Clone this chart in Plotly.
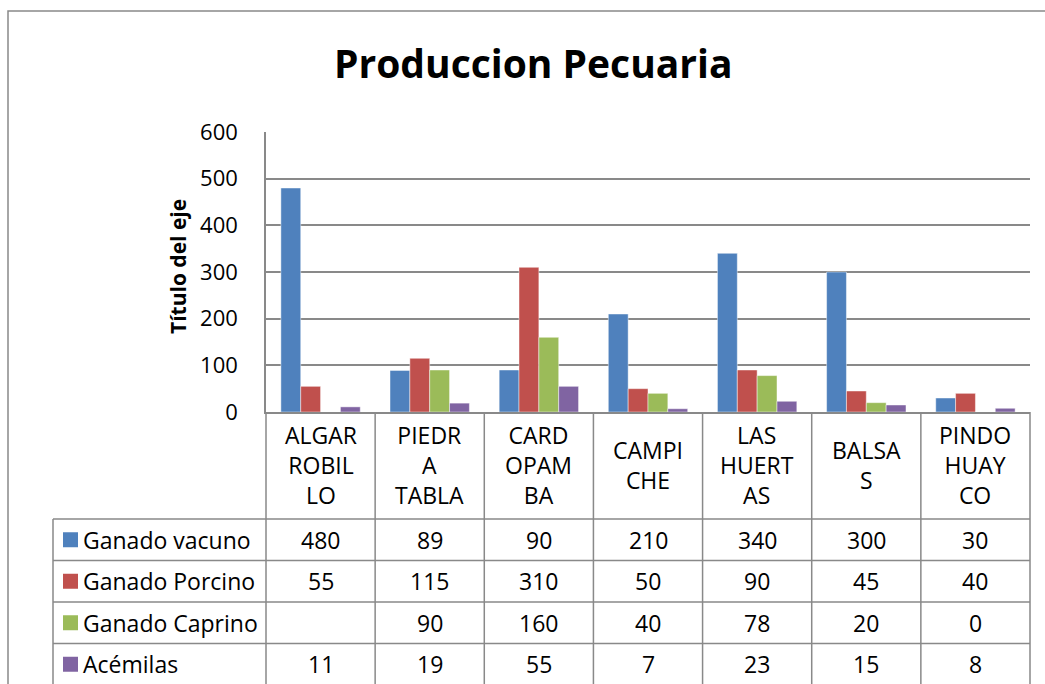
import plotly.graph_objects as go

# ---------------- data ----------------
categories = ["ALGARROBILLO", "PIEDRA TABLA", "CARDOPAMBA", "CAMPICHE",
              "LAS HUERTAS", "BALSAS", "PINDOHUAYCO"]
header_labels = ["ALGAR<br>ROBIL<br>LO", "PIEDR<br>A<br>TABLA", "CARD<br>OPAM<br>BA",
                 "CAMPI<br>CHE", "LAS<br>HUERT<br>AS", "BALSA<br>S", "PINDO<br>HUAY<br>CO"]
series_names = ["Ganado vacuno", "Ganado Porcino", "Ganado Caprino", "Acémilas"]
ganado_vacuno = [480, 89, 90, 210, 340, 300, 30]
ganado_porcino = [55, 115, 310, 50, 90, 45, 40]
ganado_caprino = [None, 90, 160, 40, 78, 20, 0]
acemilas = [11, 19, 55, 7, 23, 15, 8]
series_values = [ganado_vacuno, ganado_porcino, ganado_caprino, acemilas]
y_ticks = [0, 100, 200, 300, 400, 500, 600]

title_text = "Produccion Pecuaria"
y_title = "Título del eje"

# ---------------- styles ----------------
colors = ["#4F81BD", "#C0504D", "#9BBB59", "#8064A2"]
W, H = 1045, 684
FONT = "'Open Sans', Lato, sans-serif"
LINE = "#898989"
PLOT_L, PLOT_R, PLOT_T, PLOT_B = 266, 1030, 132, 412
LEG_L = 53
ROW_TOP = 519
ROW_H = 41.5
TXT = 23


def px(x):
    # pixel x -> paper x (paper spans the plot area)
    return (x - PLOT_L) / (PLOT_R - PLOT_L)


def py(y):
    # pixel y (from top) -> paper y
    return (PLOT_B - y) / (PLOT_B - PLOT_T)


fig = go.Figure()
for name, vals, col in zip(series_names, series_values, colors):
    fig.add_trace(go.Bar(
        x=categories, y=vals, name=name,
        marker=dict(color=col, line=dict(color="rgba(255,255,255,0.45)", width=1)),
        showlegend=False,
    ))

shapes = []
annotations = []

# outer chart border
shapes.append(dict(type="rect", xref="paper", yref="paper",
                   x0=px(8), x1=px(1070), y0=py(11), y1=py(720),
                   line=dict(color=LINE, width=1.5), fillcolor="rgba(0,0,0,0)"))

n = len(categories)
col_w = (PLOT_R - PLOT_L) / n
# vertical table lines at category boundaries
for k in range(n + 1):
    xb = PLOT_L + k * col_w
    shapes.append(dict(type="line", xref="paper", yref="paper",
                       x0=px(xb), x1=px(xb), y0=py(PLOT_B), y1=py(720),
                       line=dict(color=LINE, width=1.5)))
# legend column left edge
shapes.append(dict(type="line", xref="paper", yref="paper",
                   x0=px(LEG_L), x1=px(LEG_L), y0=py(ROW_TOP), y1=py(720),
                   line=dict(color=LINE, width=1.5)))
# horizontal row lines
for r in range(len(series_names) + 1):
    yb = ROW_TOP + r * ROW_H
    shapes.append(dict(type="line", xref="paper", yref="paper",
                       x0=px(LEG_L), x1=px(PLOT_R), y0=py(yb), y1=py(yb),
                       line=dict(color=LINE, width=1.5)))

# header (category) labels
for i, lab in enumerate(header_labels):
    xc = PLOT_L + (i + 0.5) * col_w
    annotations.append(dict(xref="paper", yref="paper", x=px(xc), y=py((PLOT_B + ROW_TOP) / 2 - 1),
                            text=lab, showarrow=False, xanchor="center", yanchor="middle",
                            font=dict(family=FONT, size=TXT, color="#000000")))

# rows
for r, (name, vals, col) in enumerate(zip(series_names, series_values, colors)):
    yc = ROW_TOP + (r + 0.5) * ROW_H
    shapes.append(dict(type="rect", xref="paper", yref="paper",
                       x0=px(63), x1=px(78), y0=py(yc - 7.5), y1=py(yc + 7.5),
                       line=dict(width=0), fillcolor=col))
    annotations.append(dict(xref="paper", yref="paper", x=px(81), y=py(yc),
                            text=name, showarrow=False, xanchor="left", yanchor="middle",
                            font=dict(family=FONT, size=TXT, color="#000000")))
    for i, v in enumerate(vals):
        xc = PLOT_L + (i + 0.5) * col_w
        annotations.append(dict(xref="paper", yref="paper", x=px(xc), y=py(yc),
                                text="" if v is None else str(v), showarrow=False,
                                xanchor="center", yanchor="middle",
                                font=dict(family=FONT, size=TXT, color="#000000")))

# title
annotations.append(dict(xref="paper", yref="paper", x=px(533), y=py(62),
                        text="<b>%s</b>" % title_text, showarrow=False,
                        xanchor="center", yanchor="middle",
                        font=dict(family=FONT, size=39, color="#000000")))
# y axis title
annotations.append(dict(xref="paper", yref="paper", x=px(178), y=py(267),
                        text="<b>%s</b>" % y_title, showarrow=False, textangle=-90,
                        xanchor="center", yanchor="middle",
                        font=dict(family=FONT, size=21, color="#000000")))

fig.update_layout(
    width=W, height=H, autosize=False,
    margin=dict(l=PLOT_L, r=W - PLOT_R, t=PLOT_T, b=H - PLOT_B, pad=0),
    paper_bgcolor="white", plot_bgcolor="white",
    barmode="group", bargap=0.2727, bargroupgap=0,
    shapes=shapes, annotations=annotations,
    font=dict(family=FONT, color="#000000"),
)
fig.update_xaxes(showticklabels=False, ticks="", showgrid=False,
                 showline=True, linecolor=LINE, linewidth=1.5, fixedrange=True)
fig.update_yaxes(range=[0, 600], tickvals=y_ticks, showgrid=True, gridcolor=LINE,
                 gridwidth=1.5, showline=True, linecolor=LINE, linewidth=1.5,
                 zeroline=False, ticks="", ticklabelstandoff=22, fixedrange=True,
                 tickfont=dict(family=FONT, size=22, color="#000000"))

fig.write_html("out.html", config={"displayModeBar": False},
               post_script="document.body.style.margin='0';")
